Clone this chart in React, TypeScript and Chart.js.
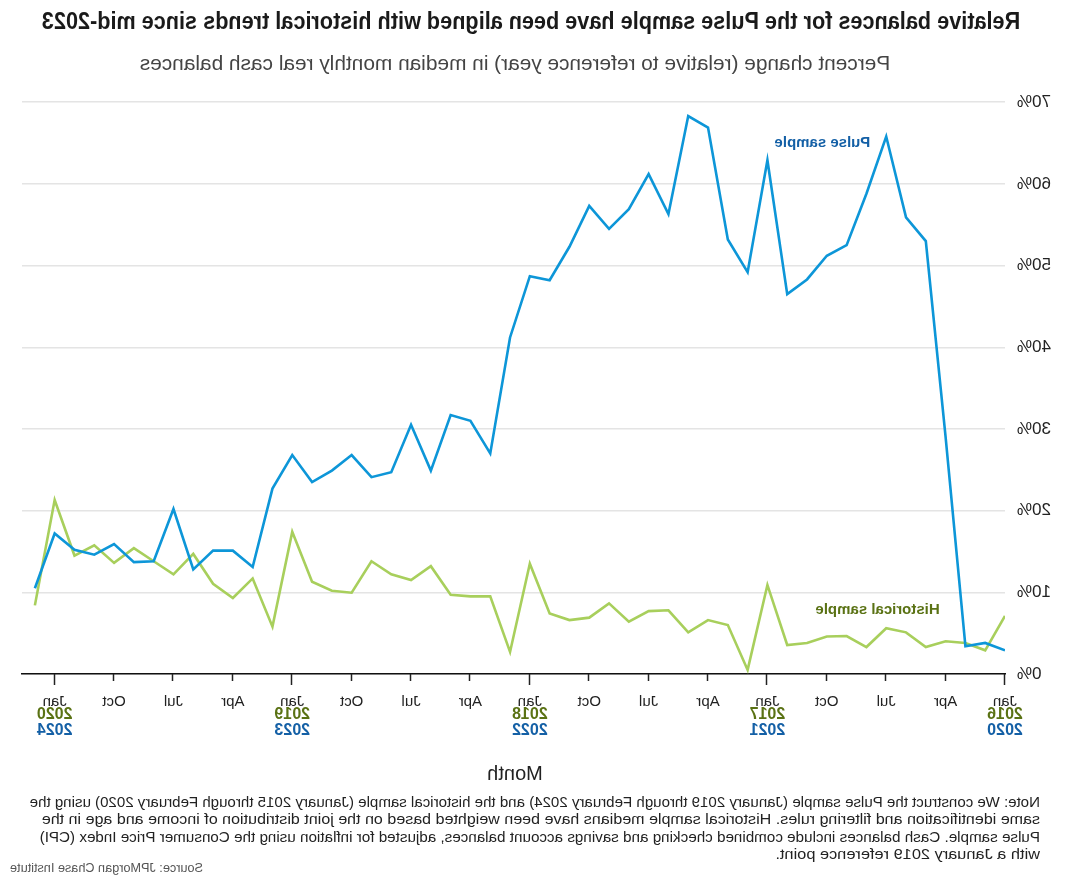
import React, { useEffect, useLayoutEffect, useRef } from "react";
import { Chart, registerables } from "chart.js";

Chart.register(...registerables);

// ---- Data ----
const tickMonths = ["Jan", "Apr", "Jul", "Oct"];
const historicalYears = ["2016", "2017", "2018", "2019", "2020"];
const pulseYears = ["2020", "2021", "2022", "2023", "2024"];
const yTickValues = [0, 10, 20, 30, 40, 50, 60, 70];

// Monthly values, Jan 2016/2020 .. Feb 2020/2024 (percent)
const pulseValues = [
  2.9, 3.8, 3.4, 29.0, 53.0, 55.9, 65.8, 58.8, 52.5, 51.2, 48.3, 46.5,
  62.9, 49.2, 53.2, 66.9, 68.3, 56.3, 61.2, 56.9, 54.5, 57.3, 52.3, 48.2,
  48.7, 41.2, 27.0, 31.0, 31.7, 24.9, 30.5, 24.7, 24.1, 26.8, 24.9, 23.5,
  26.8, 22.7, 13.1, 15.1, 15.1, 12.8, 20.2, 13.8, 13.7, 15.9, 14.6, 15.2,
  17.2, 10.5,
];
const historicalValues = [
  7.1, 2.9, 3.8, 4.0, 3.3, 5.1, 5.6, 3.3, 4.65, 4.6, 3.8, 3.55,
  10.9, 0.5, 6.0, 6.6, 5.1, 7.8, 7.7, 6.4, 8.65, 6.9, 6.6, 7.4,
  13.5, 2.7, 9.5, 9.5, 9.7, 13.2, 11.5, 12.2, 13.8, 9.95, 10.2, 11.3,
  17.4, 5.8, 11.7, 9.3, 11.05, 14.7, 12.2, 13.8, 15.4, 13.6, 15.75, 14.5,
  21.3, 8.4,
];

const seriesNames = ["Pulse sample", "Historical sample"];
const seriesLabelX = [6.8, 3.3];
const seriesLabelY = [65.0, 7.8];

const PULSE_COLOR = "#0d96d8";
const HIST_COLOR = "#a8cf5c";
const PULSE_TEXT = "#1460a6";
const HIST_TEXT = "#5a7214";

const TICK_FONT = "'Liberation Sans', Arial, sans-serif";

const decorPlugin = {
  id: "decor",
  afterDraw(chart: any) {
    const ctx = chart.ctx;
    const xs = chart.scales.x;
    const ys = chart.scales.y;
    const bottom = chart.chartArea.bottom;
    ctx.save();
    // tick marks
    ctx.strokeStyle = "#222";
    ctx.lineWidth = 1.5;
    for (let i = 0; i < pulseValues.length; i += 3) {
      const px = Math.round(xs.getPixelForValue(i)) + 0.5;
      const len = i % 12 === 0 ? 11 : 7;
      ctx.beginPath();
      ctx.moveTo(px, bottom);
      ctx.lineTo(px, bottom + len);
      ctx.stroke();
    }
    // year labels
    ctx.font = `bold 16px ${TICK_FONT}`;
    ctx.textAlign = "center";
    ctx.textBaseline = "middle";
    for (let k = 0; k < historicalYears.length; k++) {
      const px = xs.getPixelForValue(k * 12);
      ctx.fillStyle = HIST_TEXT;
      ctx.fillText(historicalYears[k], px, bottom + 41);
      ctx.fillStyle = PULSE_TEXT;
      ctx.fillText(pulseYears[k], px, bottom + 57);
    }
    // series labels
    ctx.font = "bold 15px 'Liberation Sans', Arial, sans-serif";
    ctx.textAlign = "left";
    const colors = [PULSE_TEXT, HIST_TEXT];
    for (let s = 0; s < seriesNames.length; s++) {
      ctx.fillStyle = colors[s];
      ctx.fillText(
        seriesNames[s],
        xs.getPixelForValue(seriesLabelX[s]),
        ys.getPixelForValue(seriesLabelY[s])
      );
    }
    ctx.restore();
  },
};

function ChartCanvas() {
  const ref = useRef<HTMLCanvasElement | null>(null);
  useEffect(() => {
    if (!ref.current) return;
    const chart = new Chart(ref.current, {
      type: "line",
      data: {
        datasets: [
          {
            label: seriesNames[0],
            data: pulseValues.map((v, i) => ({ x: i, y: v })),
            borderColor: PULSE_COLOR,
            borderWidth: 2.6,
            pointRadius: 0,
            tension: 0,
          },
          {
            label: seriesNames[1],
            data: historicalValues.map((v, i) => ({ x: i, y: v })),
            borderColor: HIST_COLOR,
            borderWidth: 2.6,
            pointRadius: 0,
            tension: 0,
          },
        ],
      },
      options: {
        animation: false,
        responsive: false,
        maintainAspectRatio: false,
        layout: { padding: { top: 22, right: 22, left: 0, bottom: 0 } },
        plugins: {
          legend: { display: false },
          tooltip: { enabled: false },
        },
        scales: {
          x: {
            type: "linear",
            min: 0,
            max: 49.65,
            afterBuildTicks: (scale: any) => {
              const t: any[] = [];
              for (let i = 0; i < pulseValues.length; i += 3) t.push({ value: i });
              scale.ticks = t;
            },
            afterFit: (scale: any) => {
              scale.height = 86;
            },
            grid: { display: false, drawTicks: false },
            border: { display: true, color: "#111", width: 1.5 },
            ticks: {
              autoSkip: false,
              maxRotation: 0,
              padding: 19,
              color: "#222",
              font: { family: TICK_FONT, size: 15 },
              callback: (v: any) => tickMonths[(Number(v) / 3) % 4],
            },
          },
          y: {
            min: 0,
            max: 70,
            afterBuildTicks: (scale: any) => {
              scale.ticks = yTickValues.map((v) => ({ value: v }));
            },
            afterFit: (scale: any) => {
              scale.width = 65;
            },
            grid: { color: "#e4e4e4", lineWidth: 1.5, drawTicks: false },
            border: { display: false },
            ticks: {
              padding: 12,
              color: "#222",
              font: { family: TICK_FONT, size: 17 },
              callback: (v: any) => `${v}%`,
            },
          },
        },
      },
      plugins: [decorPlugin],
    });
    return () => chart.destroy();
  }, []);
  return (
    <canvas
      ref={ref}
      width={1070}
      height={680}
      style={{ position: "absolute", left: 0, top: 80, width: 1070, height: 680 }}
    />
  );
}

// Text line squeezed/stretched horizontally to a target width
function FitLine(props: {
  text: string;
  width: number;
  anchor: "left" | "center" | "right";
  x: number;
  top: number;
  style: React.CSSProperties;
}) {
  const ref = useRef<HTMLSpanElement | null>(null);
  useLayoutEffect(() => {
    const el = ref.current;
    if (!el) return;
    const w = el.offsetWidth;
    const s = w > 0 ? props.width / w : 1;
    const origin = props.anchor === "left" ? "left" : props.anchor === "right" ? "right" : "center";
    el.style.transformOrigin = `${origin} center`;
    const shift = props.anchor === "center" ? "translateX(-50%) " : props.anchor === "right" ? "translateX(-100%) " : "";
    el.style.transform = `${shift}scaleX(${s})`;
  }, [props.text, props.width]);
  return (
    <span
      ref={ref}
      style={{
        position: "absolute",
        left: props.x,
        top: props.top,
        whiteSpace: "nowrap",
        display: "inline-block",
        ...props.style,
      }}
    >
      {props.text}
    </span>
  );
}

const titleText =
  "Relative balances for the Pulse sample have been aligned with historical trends since mid-2023";
const subtitleText =
  "Percent change (relative to reference year) in median monthly real cash balances";
const axisTitle = "Month";
const sourceText = "Source: JPMorgan Chase Institute";
const noteLines = [
  "Note: We construct the Pulse sample (January 2019 through February 2024) and the historical sample (January 2015 through February 2020) using the",
  "same identification and filtering rules. Historical sample medians have been weighted based on the joint distribution of income and age in the",
  "Pulse sample. Cash balances include combined checking and savings account balances, adjusted for inflation using the Consumer Price Index (CPI)",
  "with a January 2019 reference point.",
];
const noteWidths = [1010, 998, 1000, 265];

export default function App() {
  return (
    <div
      style={{
        position: "absolute",
        left: 0,
        top: 0,
        width: 1070,
        height: 886,
        overflow: "hidden",
        background: "#fff",
        transform: "scaleX(-1)",
        fontFamily: "'Liberation Sans', Arial, sans-serif",
        color: "#222",
      }}
    >
      <FitLine
        text={titleText}
        width={978}
        anchor="center"
        x={539}
        top={7}
        style={{ fontWeight: "bold", fontSize: 24, lineHeight: "28px", color: "#1a1a1a" }}
      />
      <FitLine
        text={subtitleText}
        width={750}
        anchor="center"
        x={555}
        top={51}
        style={{ fontSize: 20, lineHeight: "24px", color: "#444" }}
      />
      <ChartCanvas />
      <div
        style={{
          position: "absolute",
          left: 555,
          top: 761,
          transform: "translateX(-50%)",
          whiteSpace: "nowrap",
          fontSize: 20,
          lineHeight: "24px",
          color: "#222",
        }}
      >
        {axisTitle}
      </div>
      {noteLines.map((l, i) => (
        <FitLine
          key={i}
          text={l}
          width={noteWidths[i]}
          anchor="left"
          x={30}
          top={793 + i * 17.3}
          style={{ fontSize: 15, lineHeight: "17px", color: "#222" }}
        />
      ))}
      <FitLine
        text={sourceText}
        width={193}
        anchor="right"
        x={1060}
        top={861}
        style={{ fontSize: 13, lineHeight: "14px", color: "#555" }}
      />
    </div>
  );
}
